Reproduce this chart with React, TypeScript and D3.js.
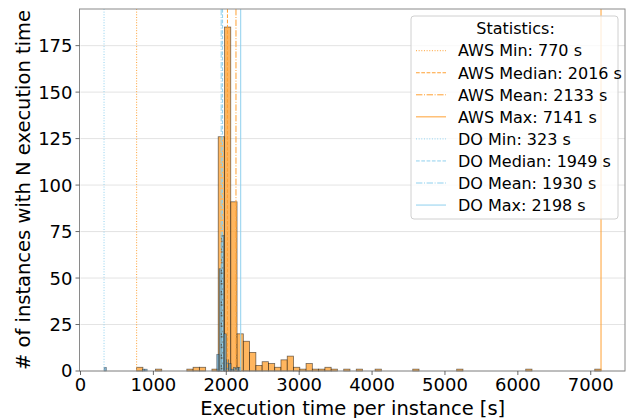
import React from "react";
import * as d3 from "d3";

// histogram bins (evenly spaced between min and max of each provider)
const awsRange: [number, number] = [770, 7141];
const awsCounts = [
  2, 0, 0, 1, 0, 0, 0, 0, 1, 2, 2, 0, 1, 126, 185, 91, 20, 16, 10, 3,
  5, 4, 2, 6, 8, 2, 1, 4, 1, 1, 2, 1, 0, 1, 0, 1, 0, 0, 1, 0,
  0, 0, 0, 0, 1, 0, 0, 0, 0, 0, 0, 1, 0, 0, 0, 0, 0, 0, 0, 0,
  0, 0, 1, 0, 0, 0, 0, 0, 0, 0, 0, 0, 0, 1,
];

const doRange: [number, number] = [323, 2198];
const doCounts = [
  2, 0, 0, 0, 0, 0, 0, 0, 0, 0, 0, 0, 0, 0, 0, 0, 1, 1, 0, 0,
  0, 0, 0, 0, 0, 0, 0, 0, 0, 0, 0, 0, 0, 0, 0, 0, 0, 0, 0, 0,
  0, 0, 0, 0, 0, 0, 0, 9, 55, 73, 20, 6, 4, 1, 2, 2, 2,
];

const statNames = ["Min", "Median", "Mean", "Max"];
const awsStats = [770, 2016, 2133, 7141];
const doStats = [323, 1949, 1930, 2198];
const statDash = ["1,1.65", "3.7,1.6", "6.4,1.6,1,1.6", ""];

const xTicks = [0, 1000, 2000, 3000, 4000, 5000, 6000, 7000];
const yTicks = [0, 25, 50, 75, 100, 125, 150, 175];

const W = 630;
const H = 418;
const left = 80.5;
const right = 625;
const top = 9;
const bottom = 371;

const AWS_FILL = "#ffa437";
const DO_FILL = "#4f8fb8";
const AWS_LINE = "#ffa033";
const DO_LINE = "#8fd0ee";
const FONT = "DejaVu Sans";

const bins = (range: [number, number], counts: number[]) => {
  const w = (range[1] - range[0]) / counts.length;
  return counts.map((c, i) => ({ x0: range[0] + i * w, x1: range[0] + (i + 1) * w, c }));
};

const App: React.FC = () => {
  const x = d3.scaleLinear().domain([0, 7470]).range([left, right]);
  const y = d3.scaleLinear().domain([0, 194.7]).range([bottom, top]);

  const awsBins = bins(awsRange, awsCounts).filter((b) => b.c > 0);
  const doBins = bins(doRange, doCounts).filter((b) => b.c > 0);

  const legendItems = [
    ...statNames.map((n, i) => ({ label: `AWS ${n}: ${awsStats[i]} s`, color: AWS_LINE, dash: statDash[i] })),
    ...statNames.map((n, i) => ({ label: `DO ${n}: ${doStats[i]} s`, color: DO_LINE, dash: statDash[i] })),
  ];

  const lg = { x: 411, y: 16, w: 207, h: 203 };

  return (
    <svg width={W} height={H} style={{ position: "fixed", left: 0, top: 0, display: "block" }} fontFamily={FONT}>
      <rect width={W} height={H} fill="white" />

      {/* grid */}
      {yTicks.map((t) => (
        <line key={t} x1={left} x2={right} y1={y(t)} y2={y(t)} stroke="#dcdcdc" strokeWidth={0.8} />
      ))}

      {/* AWS bars */}
      {awsBins.map((b, i) => (
        <rect key={"a" + i} x={x(b.x0)} y={y(b.c)} width={x(b.x1) - x(b.x0)} height={y(0) - y(b.c)}
          fill={AWS_FILL} fillOpacity={0.8} stroke="#000" strokeOpacity={0.55} strokeWidth={0.8} />
      ))}

      {/* DO bars */}
      {doBins.map((b, i) => (
        <rect key={"d" + i} x={x(b.x0)} y={y(b.c)} width={x(b.x1) - x(b.x0)} height={y(0) - y(b.c)}
          fill={DO_FILL} fillOpacity={0.7} stroke="#000" strokeOpacity={0.45} strokeWidth={0.6} />
      ))}

      {/* stat lines */}
      {awsStats.map((v, i) => (
        <line key={"al" + i} x1={x(v)} x2={x(v)} y1={top} y2={bottom} stroke={AWS_LINE}
          strokeWidth={1} strokeDasharray={statDash[i]} />
      ))}
      {doStats.map((v, i) => (
        <line key={"dl" + i} x1={x(v)} x2={x(v)} y1={top} y2={bottom} stroke={DO_LINE}
          strokeWidth={1} strokeDasharray={statDash[i]} />
      ))}

      {/* frame */}
      <rect x={left - 1} y={top} width={right - left + 1} height={bottom - top} fill="none" stroke="#8a8a8a" strokeWidth={1} />

      {/* x axis */}
      {xTicks.map((t) => (
        <g key={t} transform={`translate(${x(t)},${bottom})`}>
          <line y2={4} stroke="#444" strokeWidth={0.8} />
          <text y={19.5} textAnchor="middle" fontSize={18}>{t}</text>
        </g>
      ))}
      <text x={(left + right) / 2} y={414.5} textAnchor="middle" fontSize={19.5}>Execution time per instance [s]</text>

      {/* y axis */}
      {yTicks.map((t) => (
        <g key={t} transform={`translate(${left - 1},${y(t)})`}>
          <line x2={-4} stroke="#444" strokeWidth={0.8} />
          <text x={-7} dy="0.36em" textAnchor="end" fontSize={18}>{t}</text>
        </g>
      ))}
      <text transform={`translate(30,${(top + bottom) / 2}) rotate(-90)`} textAnchor="middle" fontSize={19.5}>
        # of instances with N execution time
      </text>

      {/* legend */}
      <rect x={lg.x} y={lg.y} width={lg.w} height={lg.h} rx={3} fill="white" fillOpacity={0.8} stroke="#d0d0d0" strokeWidth={1} />
      <text x={lg.x + lg.w / 2 + 1} y={lg.y + 18} textAnchor="middle" fontSize={16}>Statistics:</text>
      {legendItems.map((d, i) => {
        const cy = 50.7 + i * 22.05;
        return (
          <g key={d.label}>
            <line x1={416} x2={446} y1={cy} y2={cy} stroke={d.color} strokeWidth={1} strokeDasharray={d.dash} />
            <text x={458} y={cy} dy="0.36em" fontSize={16}>{d.label}</text>
          </g>
        );
      })}
    </svg>
  );
};

export default App;
